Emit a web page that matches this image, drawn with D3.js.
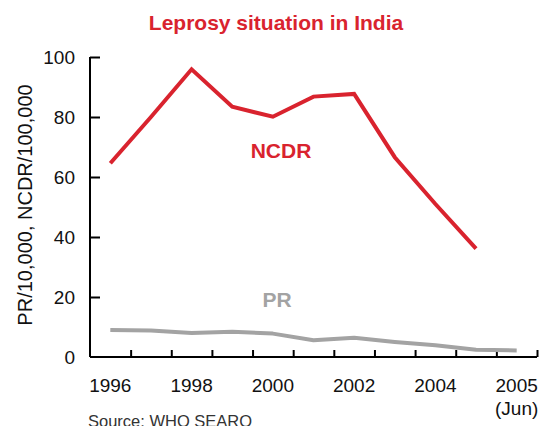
<!doctype html>
<html>
<head>
<title>Leprosy situation in India</title>
<script src="https://d3js.org/d3.v7.min.js"></script>
<style>
  body { margin: 0; background: #fff; }
  text { font-family: "Liberation Sans", Arial, sans-serif; }
</style>
</head>
<body>
<script>
// data
var years = ["1996", "1997", "1998", "1999", "2000", "2001", "2002", "2003", "2004", "2005", "2005 (Jun)"];
var ncdr = [64.6, 80, 95.9, 83.4, 80.1, 86.8, 87.7, 66.6, 51, 36.1, null];
var pr = [9.0, 8.8, 8.0, 8.4, 7.8, 5.6, 6.4, 5.0, 3.9, 2.4, 2.2];
var yTicks = [0, 20, 40, 60, 80, 100];
var xLabels = ["1996", "1998", "2000", "2002", "2004", "2005 (Jun)"];

var width = 543, height = 426;
var mLeft = 90, mRight = 537, mTop = 57, mBottom = 357;
var red = "#d9232e", grey = "#a3a3a3";

var svg = d3.select("body").append("svg")
    .attr("width", width)
    .attr("height", height);

var x = d3.scaleBand().domain(years).range([mLeft, mRight]);
var xEdge = d3.scaleLinear().domain([0, years.length]).range([mLeft, mRight]);
var y = d3.scaleLinear().domain([0, 100]).range([mBottom, mTop]);

// title
svg.append("text")
    .attr("x", 276).attr("y", 30)
    .attr("text-anchor", "middle")
    .attr("font-size", 21).attr("font-weight", "bold")
    .attr("fill", red)
    .text("Leprosy situation in India");

// y axis
var yAxis = svg.append("g")
    .attr("transform", "translate(" + mLeft + ",0)")
    .call(d3.axisLeft(y).tickValues(yTicks).tickSize(-10).tickPadding(15));
yAxis.select(".domain").attr("stroke-width", 2).attr("d", "M0," + mTop + "V" + mBottom);
yAxis.selectAll("line").attr("stroke-width", 2);
yAxis.selectAll("text").attr("font-size", 19).attr("fill", "#111");
yAxis.selectAll(".tick").filter(function (d) { return d === 0; }).select("line").remove();

// x axis, ticks on category edges
var xAxis = svg.append("g")
    .attr("transform", "translate(0," + mBottom + ")")
    .call(d3.axisBottom(xEdge).tickValues(d3.range(1, years.length + 1)).tickSize(-7).tickFormat(""));
xAxis.select(".domain").attr("stroke-width", 2).attr("d", "M" + mLeft + ",0H" + mRight);
xAxis.selectAll("line").attr("stroke-width", 2);

var lab = svg.append("g").selectAll("text")
    .data(xLabels)
    .enter().append("text")
    .attr("x", function (d) { return x(d) + x.bandwidth() / 2; })
    .attr("y", 392)
    .attr("text-anchor", "middle")
    .attr("font-size", 19)
    .attr("fill", "#111");
lab.append("tspan").text(function (d) { return d.split(" ")[0]; });
lab.filter(function (d) { return d.indexOf(" ") > 0; })
    .append("tspan")
    .attr("x", function (d) { return x(d) + x.bandwidth() / 2; })
    .attr("dy", 23)
    .text(function (d) { return d.split(" ")[1]; });

// y axis title
svg.append("text")
    .attr("transform", "translate(32,205) rotate(-90)")
    .attr("text-anchor", "middle")
    .attr("font-size", 20)
    .attr("fill", "#111")
    .text("PR/10,000, NCDR/100,000");

// lines
var line = d3.line()
    .defined(function (d) { return d != null; })
    .x(function (d, i) { return x(years[i]) + x.bandwidth() / 2; })
    .y(function (d) { return y(d); });

svg.append("path").datum(pr)
    .attr("d", line)
    .attr("fill", "none").attr("stroke", grey).attr("stroke-width", 4)
    .attr("stroke-linejoin", "round");

svg.append("path").datum(ncdr)
    .attr("d", line)
    .attr("fill", "none").attr("stroke", red).attr("stroke-width", 4)
    .attr("stroke-linejoin", "miter");

// series labels
svg.append("text")
    .attr("x", 281).attr("y", 158)
    .attr("text-anchor", "middle")
    .attr("font-size", 21).attr("font-weight", "bold")
    .attr("fill", red)
    .text("NCDR");

svg.append("text")
    .attr("x", 277).attr("y", 307)
    .attr("text-anchor", "middle")
    .attr("font-size", 21).attr("font-weight", "bold")
    .attr("fill", grey)
    .text("PR");

// source
svg.append("text")
    .attr("x", 88).attr("y", 427)
    .attr("font-size", 16.5)
    .attr("fill", "#333")
    .text("Source: WHO SEARO");
</script>
</body>
</html>
